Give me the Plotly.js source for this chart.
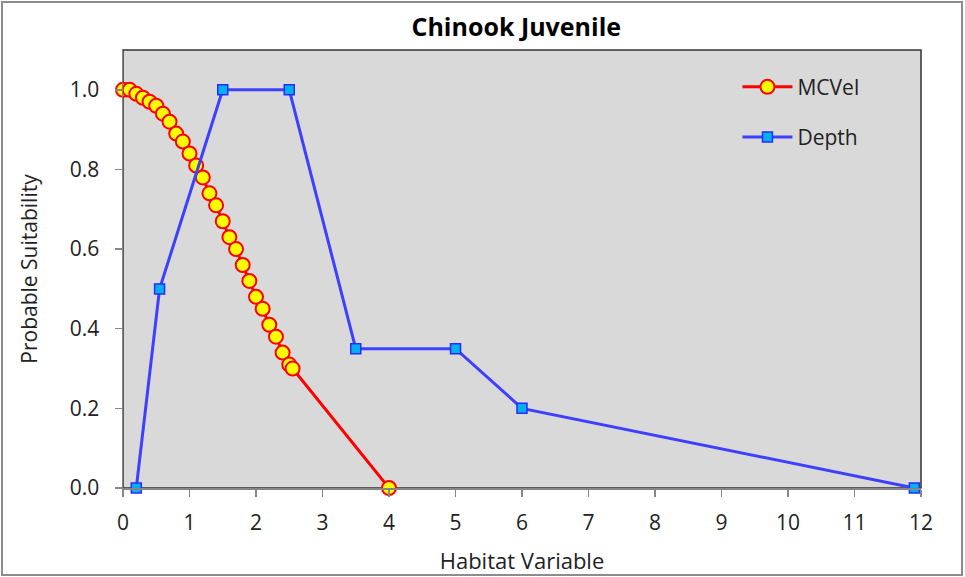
<!DOCTYPE html>
<html>
<head>
<meta charset="utf-8">
<script src="https://cdn.plot.ly/plotly-3.0.1.min.js"></script>
<style>
html,body{margin:0;padding:0;background:#fff;}
#chart{width:965px;height:577px;}
</style>
</head>
<body>
<div id="chart"></div>
<script>
const titleText = "Chinook Juvenile";
const xTitle = "Habitat Variable";
const yTitle = "Probable Suitability";

const mcvelName = "MCVel";
const mcvelX = [0.0,0.1,0.2,0.3,0.4,0.5,0.6,0.7,0.8,0.9,1.0,1.1,1.2,1.3,1.4,1.5,1.6,1.7,1.8,1.9,2.0,2.1,2.2,2.3,2.4,2.5,2.55,4.0];
const mcvelY = [1.0,1.0,0.99,0.98,0.97,0.96,0.94,0.92,0.89,0.87,0.84,0.81,0.78,0.74,0.71,0.67,0.63,0.60,0.56,0.52,0.48,0.45,0.41,0.38,0.34,0.31,0.30,0.0];

const depthName = "Depth";
const depthX = [0.2,0.55,1.5,2.5,3.5,5.0,6.0,11.9];
const depthY = [0.0,0.5,1.0,1.0,0.35,0.35,0.2,0.0];

const xTicks = [0,1,2,3,4,5,6,7,8,9,10,11,12];
const yTicks = [0,0.2,0.4,0.6,0.8,1.0];
const yTickLabels = ["0.0","0.2","0.4","0.6","0.8","1.0"];

const font = "'Open Sans', 'Noto Sans', 'Liberation Sans', sans-serif";

const traces = [
  {
    x: mcvelX, y: mcvelY, name: mcvelName, type: 'scatter', mode: 'lines+markers',
    legendgroup: 'g1',
    line: {color: '#ff0000', width: 3},
    marker: {symbol: 'circle', size: 14, color: '#ffff00', line: {color: '#ff0000', width: 2}},
    cliponaxis: false
  },
  {
    x: depthX, y: depthY, name: depthName, type: 'scatter', mode: 'lines+markers',
    legendgroup: 'g2',
    line: {color: '#3f3fff', width: 3},
    marker: {symbol: 'square', size: 10, color: '#00b0f0', line: {color: '#2a2aff', width: 1.5}},
    cliponaxis: false
  }
];

const layout = {
  width: 965, height: 577,
  margin: {l: 123, r: 44, t: 50, b: 89},
  paper_bgcolor: '#ffffff',
  plot_bgcolor: '#d9d9d9',
  font: {family: font, color: '#222222', size: 20},
  title: {text: '<b>' + titleText + '</b>', font: {family: font, size: 25, color: '#000000'}, x: 0.535, xanchor: 'center', y: 0.952, yanchor: 'middle'},
  xaxis: {
    range: [0, 12], tickvals: xTicks, ticktext: xTicks.map(String),
    showgrid: false, zeroline: false,
    showline: true, linecolor: '#868686', linewidth: 1.5,
    ticks: 'outside', ticklen: 7, tickcolor: '#868686', tickwidth: 1.5,
    ticklabelstandoff: 8,
    tickfont: {size: 21, color: '#222'},
    title: {text: xTitle, font: {size: 22, color: '#222'}, standoff: 19}
  },
  yaxis: {
    range: [0, 1.1], tickvals: yTicks, ticktext: yTickLabels,
    showgrid: false, zeroline: false,
    showline: true, linecolor: '#868686', linewidth: 1.5,
    ticks: 'outside', ticklen: 7, tickcolor: '#868686', tickwidth: 1.5,
    ticklabelstandoff: 11,
    tickfont: {size: 21, color: '#222'},
    title: {text: yTitle, font: {size: 21, color: '#222'}, standoff: 26}
  },
  legend: {
    x: 0.77, y: 0.962, xanchor: 'left', yanchor: 'top',
    bgcolor: 'rgba(0,0,0,0)', borderwidth: 0,
    font: {size: 21, color: '#222'},
    traceorder: 'grouped',
    tracegroupgap: 20, itemwidth: 50
  },
  shapes: [
    {type: 'rect', xref: 'paper', yref: 'paper', x0: 0, x1: 1, y0: 0, y1: 1,
     line: {color: '#333333', width: 1.5}, layer: 'below'},
    {type: 'rect', xref: 'paper', yref: 'paper', x0: -0.1516, x1: 1.0514, y0: -0.1986, y1: 1.1096,
     line: {color: '#8c8c8c', width: 2}, layer: 'below'}
  ],
  showlegend: true
};

Plotly.newPlot('chart', traces, layout, {displayModeBar: false, staticPlot: true});
</script>
</body>
</html>
